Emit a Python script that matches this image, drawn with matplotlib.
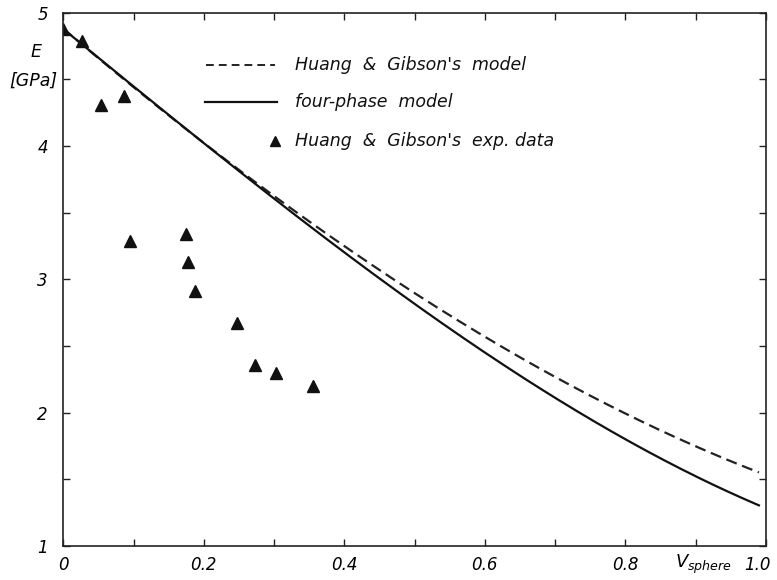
import numpy as np
import matplotlib
matplotlib.use("Agg")
import matplotlib.pyplot as plt
from matplotlib.ticker import MultipleLocator, FixedLocator
from matplotlib.transforms import ScaledTranslation

plt.rcParams['font.family'] = ['DejaVu Sans']
plt.rcParams['font.style'] = 'italic'
plt.rcParams['mathtext.fontset'] = 'dejavusans'

# model curves
v_model = [0.0, 0.1, 0.2, 0.3, 0.4, 0.5, 0.6, 0.7, 0.8, 0.9, 0.99]
E_four_phase = [4.88, 4.45, 4.02, 3.58, 3.21, 2.84, 2.45, 2.12, 1.77, 1.53, 1.31]
E_huang_model = [4.88, 4.45, 4.02, 3.60, 3.25, 2.92, 2.575, 2.28, 1.96, 1.75, 1.56]

# experimental points
v_exp = [0.0, 0.026, 0.054, 0.086, 0.095, 0.174, 0.178, 0.188, 0.247, 0.273, 0.303, 0.355]
E_exp = [4.88, 4.79, 4.31, 4.375, 3.29, 3.34, 3.13, 2.91, 2.676, 2.36, 2.30, 2.20]

x_ticks = [0, 0.2, 0.4, 0.6, 0.8, 1.0]
x_tick_labels = ["0", "0.2", "0.4", "0.6", "0.8", "1.0"]
y_ticks = [1, 2, 3, 4, 5]

legend_labels = ["Huang  &  Gibson's  model", "four-phase  model", "Huang  &  Gibson's  exp. data"]

fig = plt.figure(figsize=(7.77, 5.80), dpi=100)
ax = fig.add_axes([0.0815, 0.0586, 0.9043, 0.9195])

# smooth the read-off points for drawing
vs = np.linspace(v_model[0], v_model[-1], 200)
four = np.polyval(np.polyfit(v_model, E_four_phase, 3), vs)
huang = np.polyval(np.polyfit(v_model, E_huang_model, 3), vs)

ax.plot(vs, huang, color='#222222', lw=1.6, ls=(0, (5, 2.6)))
ax.plot(vs, four, color='#111111', lw=1.6)
ax.plot(v_exp, E_exp, ls='none', marker='^', ms=8, color='#111111')

ax.set_xlim(0, 1.0)
ax.set_ylim(1, 5)
ax.xaxis.set_major_locator(FixedLocator(x_ticks))
ax.set_xticklabels(x_tick_labels)
ax.xaxis.set_minor_locator(MultipleLocator(0.1))
ax.yaxis.set_major_locator(FixedLocator(y_ticks))
ax.yaxis.set_minor_locator(MultipleLocator(0.5))
ax.tick_params(which='both', direction='in', top=True, right=True,
               length=5, width=1.0, color='#222222')
ax.tick_params(axis='x', which='major', pad=7, labelsize=12)
ax.tick_params(axis='y', which='major', pad=11, labelsize=12)
for s in ax.spines.values():
    s.set_linewidth(1.2)
    s.set_color('#222222')

# keep "1.0" inside the figure
last = ax.get_xticklabels()[-1]
last.set_transform(last.get_transform() + ScaledTranslation(-6 / 72, 0, fig.dpi_scale_trans))

# hand-placed legend
ax.plot([0.203, 0.301], [0.902, 0.902], transform=ax.transAxes,
        color='#222222', lw=1.4, ls=(0, (4, 2.6)))
ax.plot([0.202, 0.304], [0.8326, 0.8326], transform=ax.transAxes,
        color='#111111', lw=1.6)
ax.plot([0.301], [0.759], transform=ax.transAxes, marker='^', ms=7,
        color='#111111', ls='none')
for yy, lab in zip([0.902, 0.8326, 0.759], legend_labels):
    ax.text(0.33, yy, lab, transform=ax.transAxes, fontsize=12.5,
            va='center', ha='left', color='#111111')

fig.text(36 / 777, 1 - 52 / 580, "E", fontsize=12.5, ha='center', va='center')
fig.text(33 / 777, 1 - 81 / 580, "[GPa]", fontsize=12.5, ha='center', va='center')
fig.text(675 / 777, 1 - 568 / 580, r"$V_{sphere}$", fontsize=13, ha='left', va='baseline')

fig.savefig("out.png", dpi=100)
